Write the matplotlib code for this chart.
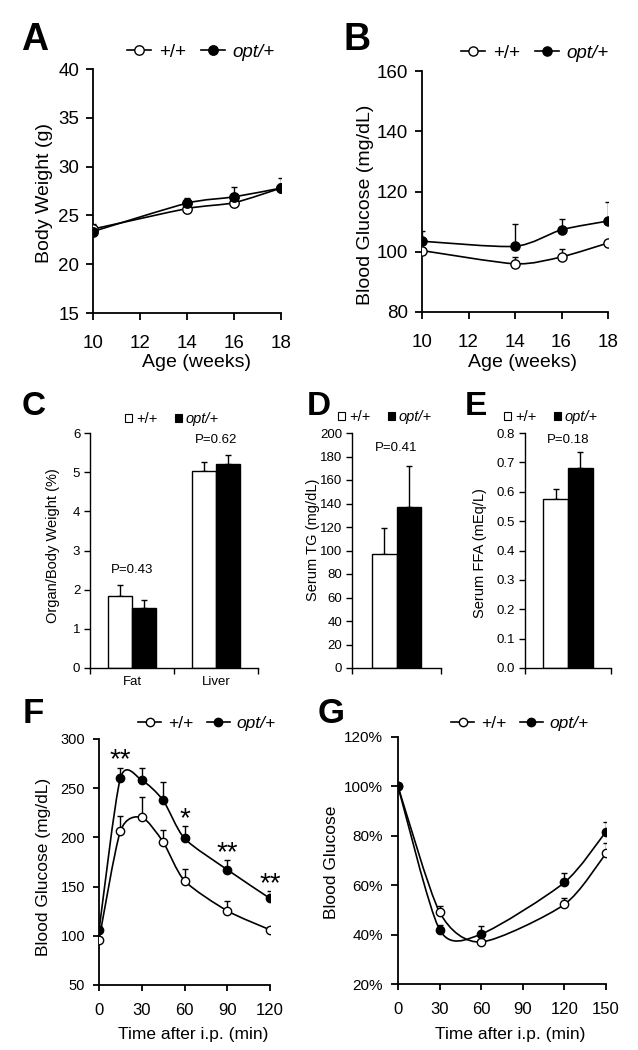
import numpy as np
import matplotlib
matplotlib.use("Agg")
import matplotlib.pyplot as plt
from matplotlib.path import Path
from matplotlib.patches import PathPatch
from matplotlib.ticker import FuncFormatter, FixedLocator
from matplotlib.lines import Line2D
from matplotlib.patches import Rectangle

plt.rcParams['font.family'] = ['Liberation Sans', 'DejaVu Sans']

# ---------------- data ----------------
series_labels = ["+/+", "opt/+"]

# A: body weight
age_weeks = [10, 14, 16, 18]
bw_wt = [23.6, 25.7, 26.3, 27.8]
bw_wt_err = [0.55, 0.3, 0.3, 0.4]
bw_opt = [23.35, 26.25, 26.9, 27.8]
bw_opt_err = [0.3, 0.5, 1.05, 1.0]

# B: blood glucose vs age
bg_wt = [100.4, 96.0, 98.3, 102.9]
bg_wt_err = [1.0, 2.2, 2.6, 1.0]
bg_opt = [103.5, 101.8, 107.3, 110.2]
bg_opt_err = [3.4, 7.3, 3.7, 6.4]

# C: organ / body weight
organs = ["Fat", "Liver"]
organ_wt = [1.83, 5.03]
organ_wt_err = [0.29, 0.23]
organ_opt = [1.54, 5.20]
organ_opt_err = [0.19, 0.25]
organ_p = ["P=0.43", "P=0.62"]

# D: serum TG
tg_wt, tg_wt_err = 96.7, 22.2
tg_opt, tg_opt_err = 136.6, 35.5
tg_p = "P=0.41"

# E: serum FFA
ffa_wt, ffa_wt_err = 0.575, 0.035
ffa_opt, ffa_opt_err = 0.680, 0.056
ffa_p = "P=0.18"

# F: GTT
gtt_time = [0, 15, 30, 45, 60, 90, 120]
gtt_wt = [95.9, 206.2, 220.4, 195.3, 156.0, 125.4, 106.1]
gtt_wt_err = [3.0, 15.2, 20.4, 11.9, 12.2, 9.5, 3.0]
gtt_opt = [105.4, 260.1, 258.1, 237.7, 199.0, 167.2, 138.0]
gtt_opt_err = [5.0, 10.9, 12.5, 18.3, 12.3, 9.5, 7.5]
gtt_sig_time = [15, 60, 90, 120]
gtt_sig_label = ["**", "*", "**", "**"]

# G: ITT (% of baseline)
itt_time = [0, 30, 60, 120, 150]
itt_wt = [100.0, 49.1, 37.0, 52.2, 72.9]
itt_wt_err = [0.0, 2.3, 1.0, 2.8, 4.0]
itt_opt = [100.0, 42.0, 40.2, 61.1, 81.7]
itt_opt_err = [0.0, 2.0, 3.1, 3.8, 4.0]

# ---------------- layout helpers ----------------
W, H = 638, 1050
fig = plt.figure(figsize=(W / 100, H / 100), dpi=100)


def add_ax(l, t, r, b):
    ax = fig.add_axes([l / W, 1 - b / H, (r - l) / W, (b - t) / H])
    for s in ("top", "right"):
        ax.spines[s].set_visible(False)
    for s in ("left", "bottom"):
        ax.spines[s].set_linewidth(1.3)
    ax.patch.set_alpha(0)
    return ax


def ftext(x, y, s, **kw):
    return fig.text(x / W, 1 - y / H, s, **kw)


def smooth_path(x, y, k=8.0):
    x = np.asarray(x, float)
    y = np.asarray(y, float)
    n = len(x)
    pts = np.column_stack([x, y])
    verts = [tuple(pts[0])]
    codes = [Path.MOVETO]
    for i in range(n - 1):
        p0 = pts[max(i - 1, 0)]
        p1 = pts[i]
        p2 = pts[i + 1]
        p3 = pts[min(i + 2, n - 1)]
        c1 = p1 + (p2 - p0) / k
        c2 = p2 - (p3 - p1) / k
        verts += [tuple(c1), tuple(c2), tuple(p2)]
        codes += [Path.CURVE4] * 3
    return Path(verts, codes)


def line_series(ax, x, y, err, filled, ms):
    ax.add_patch(PathPatch(smooth_path(x, y), facecolor='none',
                           edgecolor='black', lw=1.2, zorder=2))
    err = np.asarray(err)
    ax.errorbar(x, y, yerr=[np.zeros_like(err), err], fmt='none',
                ecolor='black', elinewidth=1.0, capsize=2.5, capthick=1.0, zorder=1)
    ax.plot(x, y, linestyle='none', marker='o', ms=ms,
            mfc='black' if filled else 'white', mec='black', mew=1.0, zorder=3)


def line_legend(cx, cy, fs, ms, handlelength=1.3):
    h = [Line2D([], [], color='black', lw=1.2, marker='o', ms=ms, mfc='white', mec='black'),
         Line2D([], [], color='black', lw=1.2, marker='o', ms=ms, mfc='black', mec='black')]
    leg = fig.legend(h, series_labels, loc='center', bbox_to_anchor=(cx / W, 1 - cy / H),
                     ncol=2, frameon=False, fontsize=fs, handlelength=handlelength,
                     handletextpad=0.4, columnspacing=0.8, borderpad=0, borderaxespad=0)
    leg.get_texts()[1].set_fontstyle('italic')
    return leg


def bar_legend(cx, cy, fs):
    h = [Rectangle((0, 0), 1, 1, facecolor='white', edgecolor='black', lw=0.8),
         Rectangle((0, 0), 1, 1, facecolor='black', edgecolor='black', lw=0.8)]
    leg = fig.legend(h, series_labels, loc='center', bbox_to_anchor=(cx / W, 1 - cy / H),
                     ncol=2, frameon=False, fontsize=fs, handlelength=0.5, handleheight=0.5,
                     handletextpad=0.25, columnspacing=1.2, borderpad=0, borderaxespad=0)
    leg.get_texts()[1].set_fontstyle('italic')
    return leg


def panel_letter(x, y, s, fs):
    ftext(x, y, s, fontsize=fs, fontweight='bold', ha='center', va='baseline')


# ---------------- A ----------------
axA = add_ax(93, 69, 281, 313)
line_series(axA, age_weeks, bw_wt, bw_wt_err, False, 6.8)
line_series(axA, age_weeks, bw_opt, bw_opt_err, True, 6.8)
axA.set_xlim(10, 18)
axA.set_ylim(15, 40)
axA.set_xticks([10, 12, 14, 16, 18])
axA.set_yticks([15, 20, 25, 30, 35, 40])
axA.tick_params(axis='y', direction='out', length=5, width=1.3, labelsize=13.5, pad=5)
axA.tick_params(axis='x', direction='out', length=5, width=1.3, labelsize=13.5, pad=11)
ftext(45, 193, "Body Weight (g)", fontsize=14, rotation=90, ha='center', va='center')
ftext(196, 362, "Age (weeks)", fontsize=14, ha='center', va='center')
line_legend(201, 52, 13.5, 6.8)
panel_letter(35, 50, "A", 27)

# ---------------- B ----------------
axB = add_ax(422, 71, 608, 312)
line_series(axB, age_weeks, bg_wt, bg_wt_err, False, 6.6)
line_series(axB, age_weeks, bg_opt, bg_opt_err, True, 6.6)
axB.set_xlim(10, 18)
axB.set_ylim(80, 160)
axB.set_xticks([10, 12, 14, 16, 18])
axB.set_yticks([80, 100, 120, 140, 160])
axB.tick_params(axis='y', direction='out', length=5, width=1.3, labelsize=13.5, pad=5)
axB.tick_params(axis='x', direction='out', length=5, width=1.3, labelsize=13.5, pad=11)
ftext(365, 205, "Blood Glucose (mg/dL)", fontsize=14, rotation=90, ha='center', va='center')
ftext(523, 362, "Age (weeks)", fontsize=14, ha='center', va='center')
line_legend(535, 53, 13.5, 6.6)
panel_letter(357, 50, "B", 27)


# ---------------- bar helpers ----------------
def bar_panel(ax, cats, wt, wt_err, opt, opt_err, width):
    x = np.arange(len(cats))
    ax.bar(x - width / 2, wt, width, color='white', edgecolor='black', lw=1.0, zorder=2,
           yerr=[np.zeros(len(cats)), wt_err], capsize=2.5,
           error_kw=dict(elinewidth=1.0, capthick=1.0, ecolor='black', zorder=1))
    ax.bar(x + width / 2, opt, width, color='black', edgecolor='black', lw=1.0, zorder=2,
           yerr=[np.zeros(len(cats)), opt_err], capsize=2.5,
           error_kw=dict(elinewidth=1.0, capthick=1.0, ecolor='black', zorder=1))
    ax.set_xlim(-0.5, len(cats) - 0.5)
    ax.xaxis.set_major_locator(FixedLocator(np.arange(len(cats) + 1) - 0.5))
    ax.set_xticklabels([])
    ax.xaxis.set_minor_locator(FixedLocator(x))
    ax.xaxis.set_ticklabels(cats, minor=True)
    ax.tick_params(axis='x', which='major', direction='out', length=4, width=1.0)
    ax.tick_params(axis='x', which='minor', length=0, labelsize=9.5, pad=6)
    ax.tick_params(axis='y', direction='out', length=4, width=1.0, labelsize=9.5, pad=3)
    for s in ("left", "bottom"):
        ax.spines[s].set_linewidth(1.0)
    return x


# ---------------- C ----------------
axC = add_ax(90, 433, 258, 668)
xC = bar_panel(axC, organs, organ_wt, organ_wt_err, organ_opt, organ_opt_err, 0.286)
axC.set_ylim(0, 6)
axC.set_yticks(range(0, 7))
for i in range(len(organs)):
    top = max(organ_wt[i] + organ_wt_err[i], organ_opt[i] + organ_opt_err[i])
    axC.text(xC[i], top + 0.37, organ_p[i], fontsize=9.5, ha='center', va='center')
ftext(53, 546, "Organ/Body Weight (%)", fontsize=10.5, rotation=90, ha='center', va='center')
bar_legend(172, 419, 10.5)
panel_letter(34, 415, "C", 24)

# ---------------- D ----------------
axD = add_ax(352, 433, 441, 668)
xD = bar_panel(axD, [""], [tg_wt], [tg_wt_err], [tg_opt], [tg_opt_err], 0.28)
axD.set_ylim(0, 200)
axD.set_yticks(range(0, 201, 20))
axD.text(xD[0], max(tg_wt + tg_wt_err, tg_opt + tg_opt_err) + 15, tg_p,
         fontsize=9.5, ha='center', va='center')
ftext(313, 540, "Serum TG (mg/dL)", fontsize=10.5, rotation=90, ha='center', va='center')
bar_legend(385, 417, 10.5)
panel_letter(319, 415, "D", 24)

# ---------------- E ----------------
axE = add_ax(525, 433, 611, 668)
xE = bar_panel(axE, [""], [ffa_wt], [ffa_wt_err], [ffa_opt], [ffa_opt_err], 0.29)
axE.set_ylim(0, 0.8)
axE.set_yticks(np.arange(0, 0.81, 0.1))
axE.yaxis.set_major_formatter(FuncFormatter(lambda v, p: f"{v:.1f}"))
axE.text(xE[0], max(ffa_wt + ffa_wt_err, ffa_opt + ffa_opt_err) + 0.04, ffa_p,
         fontsize=9.5, ha='center', va='center')
ftext(480, 553, "Serum FFA (mEq/L)", fontsize=10.5, rotation=90, ha='center', va='center')
bar_legend(551, 417, 10.5)
panel_letter(476, 415, "E", 24)

# ---------------- F ----------------
axF = add_ax(99, 739, 270, 985)
line_series(axF, gtt_time, gtt_wt, gtt_wt_err, False, 6.0)
line_series(axF, gtt_time, gtt_opt, gtt_opt_err, True, 6.0)
axF.set_xlim(0, 120)
axF.set_ylim(50, 300)
axF.set_xticks([0, 30, 60, 90, 120])
axF.set_yticks([50, 100, 150, 200, 250, 300])
axF.tick_params(axis='y', direction='out', length=4, width=1.3, labelsize=10.5, pad=6)
axF.tick_params(axis='x', direction='out', length=4, width=1.3, labelsize=12, pad=9)
for t, lab in zip(gtt_sig_time, gtt_sig_label):
    i = gtt_time.index(t)
    axF.text(t, gtt_opt[i] + gtt_opt_err[i] + 7, lab, fontsize=20,
             ha='center', va='center')
ftext(44, 867, "Blood Glucose (mg/dL)", fontsize=12.5, rotation=90, ha='center', va='center')
ftext(193, 1034, "Time after i.p. (min)", fontsize=12.5, ha='center', va='center')
line_legend(207, 723, 12.5, 6.0)
panel_letter(33, 723, "F", 25)

# ---------------- G ----------------
axG = add_ax(398, 737, 606, 984)
line_series(axG, itt_time, itt_wt, itt_wt_err, False, 6.0)
line_series(axG, itt_time, itt_opt, itt_opt_err, True, 6.0)
axG.set_xlim(0, 150)
axG.set_ylim(20, 120)
axG.set_xticks([0, 30, 60, 90, 120, 150])
axG.set_yticks([20, 40, 60, 80, 100, 120])
axG.yaxis.set_major_formatter(FuncFormatter(lambda v, p: f"{v:.0f}%"))
axG.tick_params(axis='y', direction='out', length=5, width=1.3, labelsize=11, pad=6)
axG.tick_params(axis='x', direction='out', length=4, width=1.3, labelsize=12, pad=9)
ftext(331, 862, "Blood Glucose", fontsize=12.5, rotation=90, ha='center', va='center')
ftext(510, 1034, "Time after i.p. (min)", fontsize=12.5, ha='center', va='center')
line_legend(520, 723, 12.5, 6.0)
panel_letter(331, 723, "G", 25)

fig.savefig("out.png", dpi=100)
